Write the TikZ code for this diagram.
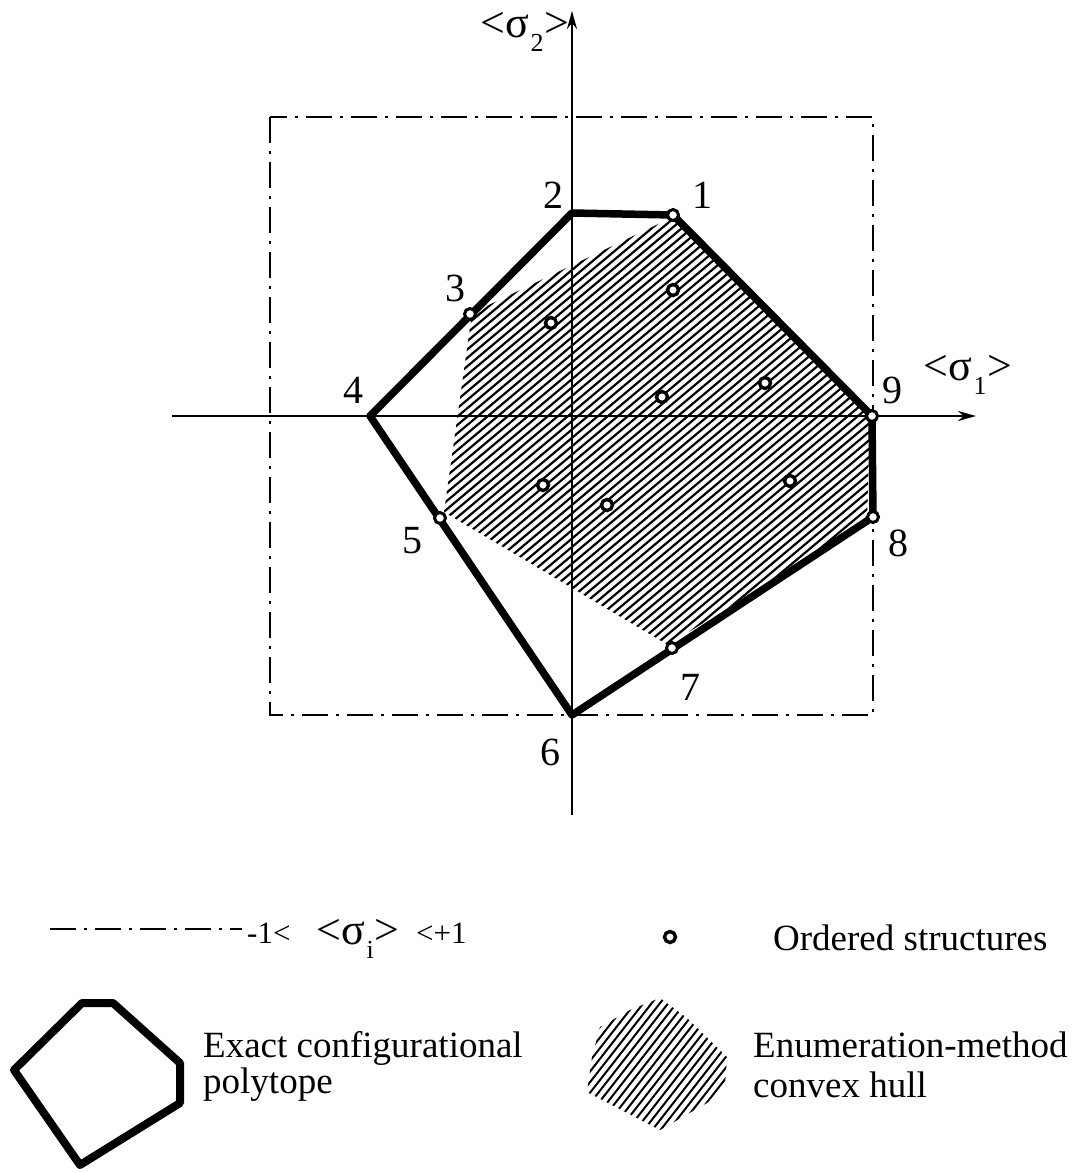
\documentclass[tikz,border=0pt]{standalone}
\usepackage{fontspec}
\setmainfont{Liberation Serif}
\usetikzlibrary{arrows.meta}
\newcommand{\sgm}[2]{<\kern1ptσ\kern1pt\raisebox{-0.32em}{\fontsize{#2}{#2}\selectfont #1}\kern1pt>}
\begin{document}
\begin{tikzpicture}[x=1pt,y=-1pt,
  poly/.style={line width=7.5pt, line join=round, line cap=round},
  axis/.style={line width=2.6pt, -{Stealth[length=18pt,width=10pt]}},
  ddline/.style={line width=2.5pt, dash pattern=on 26pt off 8pt on 3pt off 8pt},
  vcirc/.style={circle, draw, fill=white, line width=3pt, inner sep=0pt, minimum size=11pt},
  icirc/.style={circle, draw, fill=white, line width=3.4pt, inner sep=0pt, minimum size=11pt},
  lbl/.style={font=\fontsize{40}{40}\selectfont, inner sep=0pt},
  txt/.style={font=\fontsize{37}{37}\selectfont, inner sep=0pt, anchor=base west},
  sig/.style={font=\fontsize{44}{44}\selectfont, inner sep=0pt, anchor=base west},
  hatchline/.style={line width=2.2pt},
]
\useasboundingbox (0,0) rectangle (1078,1173);

% vertices
\coordinate (v1) at (673,215);
\coordinate (v2) at (572,213);
\coordinate (v3) at (470,314);
\coordinate (v4) at (370,416);
\coordinate (v5) at (440,518);
\coordinate (v6) at (572,715);
\coordinate (v7) at (672,648);
\coordinate (v8) at (873,517);
\coordinate (v9) at (872,416);

% hatched hull
\begin{scope}
  \clip (673,217) -- (870,416) -- (867,521) -- (668,645) -- (444,512) -- (472,313) -- cycle;
  \foreach \c in {-70,-60,...,620} \draw[hatchline] (\c,750) -- (\c+715,150);
\end{scope}

% dash-dot box
\draw[ddline] (270,117) rectangle (873,715);

% axes
\coordinate (xa0) at (172,416);
\coordinate (xa1) at (976,416);
\coordinate (ya0) at (572,815);
\coordinate (ya1) at (572,11);
\draw[axis] (xa0) -- (xa1);
\draw[axis] (ya0) -- (ya1);

% polytope
\draw[poly] (v1) -- (v2) -- (v4) -- (v6) -- (v8) -- (v9) -- cycle;

% vertex circles
\foreach \v in {v1,v3,v5,v7,v8,v9} \node[vcirc] (c\v) at (\v) {};

% inner ordered structures
\node[icirc] (p1) at (673,290) {};
\node[icirc] (p2) at (551,323) {};
\node[icirc] (p3) at (662,397) {};
\node[icirc] (p4) at (765,383) {};
\node[icirc] (p5) at (543,485) {};
\node[icirc] (p6) at (607,505) {};
\node[icirc] (p7) at (790,481) {};

% labels
\node[lbl] (l1) at (702,195) {1};
\node[lbl] (l2) at (553,195) {2};
\node[lbl] (l3) at (455,288) {3};
\node[lbl] (l4) at (353,390) {4};
\node[lbl] (l5) at (412,541) {5};
\node[lbl] (l6) at (550,752) {6};
\node[lbl] (l7) at (690,687) {7};
\node[lbl] (l8) at (898,543) {8};
\node[lbl] (l9) at (892,390) {9};

\node[sig] (s1) at (923,380) {\sgm{1}{26}};
\node[sig] (s2) at (480,37) {\sgm{2}{26}};

% legend: dash-dot
\coordinate (dd0) at (50,929);
\coordinate (dd1) at (242,929);
\draw[ddline] (dd0) -- (dd1);
\node[txt, font=\fontsize{31}{31}\selectfont] (r1) at (247,943) {-1<};
\node[sig] (r2) at (316,944) {\sgm{i}{26}};
\node[txt, font=\fontsize{31}{31}\selectfont] (r3) at (416,943) {<+1};

% legend: ordered structures
\node[icirc] (lc) at (670,937) {};
\node[txt] (t1) at (773,950) {Ordered structures};

% legend: polytope
\draw[line width=8pt, line join=round] (82,1003) -- (113,1003) -- (180,1063) -- (180,1103) -- (80,1165) -- (14,1070) -- cycle;
\node[txt] (t2) at (203,1057) {Exact configurational};
\node[txt] (t3) at (203,1093) {polytope};

% legend: hatch
\begin{scope}
  \clip (660,998) -- (687,1018) -- (727,1057) -- (725,1085) -- (707,1103) -- (660,1130) -- (587,1092) -- (592,1057) -- (600,1027) -- (630,1010) -- cycle;
  \foreach \c in {495,503.3,...,705} \draw[line width=2pt] (\c,1140) -- (\c+125,980);
\end{scope}
\node[txt] (t4) at (753,1057) {Enumeration-method};
\node[txt] (t5) at (753,1097) {convex hull};
\end{tikzpicture}
\end{document}
